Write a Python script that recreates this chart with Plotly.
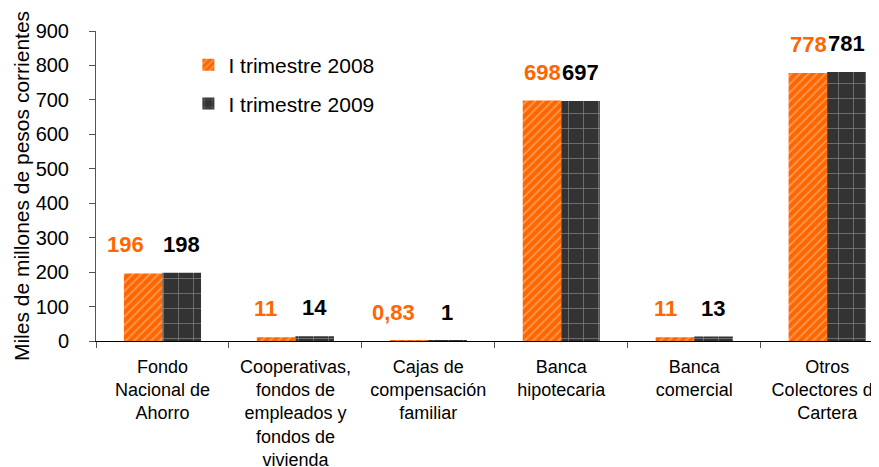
import plotly.graph_objects as go

categories = [
    "Fondo<br>Nacional de<br>Ahorro",
    "Cooperativas,<br>fondos de<br>empleados y<br>fondos de<br>vivienda",
    "Cajas de<br>compensación<br>familiar",
    "Banca<br>hipotecaria",
    "Banca<br>comercial",
    "Otros<br>Colectores de<br>Cartera",
]
q1_2008 = [196, 11, 0.83, 698, 11, 778]
q1_2009 = [198, 14, 1, 697, 13, 781]

# small horizontal nudges (px) of the 2008 value labels, as placed in the original
nudge_2008 = [-18, -11, -16, 0, -10, 0]

ORANGE = "#FF6600"
DARK = "#333333"
FONT = "Liberation Sans, Arial, sans-serif"


def fmt(v):
    return f"{v:g}".replace(".", ",")


fig = go.Figure()
fig.add_trace(go.Bar(
    x=categories, y=q1_2008, name="I trimestre 2008", showlegend=True,
    marker=dict(color=ORANGE, line=dict(width=0),
                pattern=dict(shape="/", fgcolor="#FFD0B0", bgcolor=ORANGE,
                             size=6, solidity=0.3)),
    legend="legend",
))
fig.add_trace(go.Bar(
    x=categories, y=q1_2009, name="I trimestre 2009", showlegend=True,
    marker=dict(color=DARK, line=dict(width=0),
                pattern=dict(shape="+", fgcolor="#C8C8C8", bgcolor=DARK,
                             size=15, solidity=0.1)),
    legend="legend2",
))

# value labels above each bar
for cat, a, b, dx in zip(categories, q1_2008, q1_2009, nudge_2008):
    fig.add_annotation(x=cat, y=a, text=f"<b>{fmt(a)}</b>", showarrow=False,
                       xshift=-19 + dx, yshift=14, yanchor="bottom",
                       font=dict(family=FONT, size=22, color=ORANGE))
    fig.add_annotation(x=cat, y=b, text=f"<b>{fmt(b)}</b>", showarrow=False,
                       xshift=19, yshift=14, yanchor="bottom",
                       font=dict(family=FONT, size=22, color="black"))

# the page body adds an 8px offset, so the figure is sized/margined for it
fig.update_layout(
    width=871, height=459,
    margin=dict(l=88, r=0, t=23, b=126),
    paper_bgcolor="white", plot_bgcolor="white",
    barmode="group", bargap=0.42, bargroupgap=0,
    showlegend=True,
    font=dict(family=FONT, size=20, color="black"),
    legend=dict(x=0.118, y=0.956, xanchor="left", yanchor="top",
                bgcolor="rgba(0,0,0,0)", font=dict(size=21)),
    legend2=dict(x=0.118, y=0.831, xanchor="left", yanchor="top",
                 bgcolor="rgba(0,0,0,0)", font=dict(size=21)),
)
fig.update_yaxes(
    range=[0, 900], dtick=100, showgrid=False, zeroline=False,
    showline=True, linecolor="#555555", linewidth=1,
    ticks="outside", ticklen=6, tickcolor="#555555",
    ticklabelstandoff=16, automargin=False,
    tickfont=dict(size=20),
    title=dict(text="Miles de millones de pesos corrientes",
               font=dict(size=21), standoff=0),
)
fig.update_xaxes(
    range=[-0.5, 5.39], showgrid=False, automargin=False,
    showline=True, linecolor="black", linewidth=1,
    ticks="outside", ticklen=6, tickcolor="#555555", tickson="boundaries",
    ticklabelstandoff=9,
    tickfont=dict(size=18),
    tickangle=0,
)

fig.write_html("out.html")
